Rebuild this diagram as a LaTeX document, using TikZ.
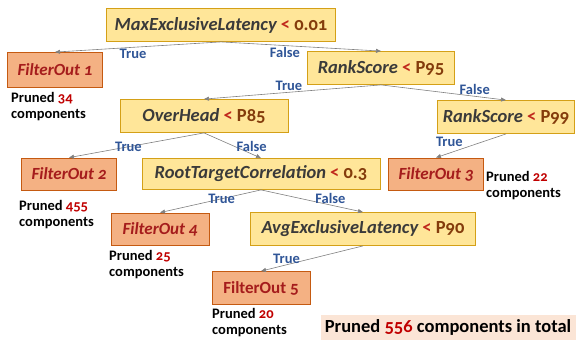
\documentclass[tikz,border=0pt]{standalone}
\usepackage{fontspec}
\setmainfont{Carlito}[Numbers=OldStyle]
\usetikzlibrary{arrows.meta}

\definecolor{condfill}{HTML}{FFE699}
\definecolor{conddraw}{HTML}{D4A017}
\definecolor{filtfill}{HTML}{F4B183}
\definecolor{filtdraw}{HTML}{C55A11}
\definecolor{filttext}{HTML}{A51C1C}
\definecolor{vartext}{HTML}{3A3A3A}
\definecolor{valtext}{HTML}{843C0C}
\definecolor{optext}{HTML}{C0281C}
\definecolor{lbltext}{HTML}{2F5597}
\definecolor{numtext}{HTML}{C00000}
\definecolor{totalfill}{HTML}{FBE5D6}

\newcommand{\cnd}[2]{\textit{\color{vartext}#1} {\color{optext}<} {\color{valtext}#2}}
\newcommand{\pruned}[1]{Pruned {\color{numtext}#1}\\components}

\begin{document}
\begin{tikzpicture}[x=1pt,y=-1pt,
		cond/.style={draw=conddraw,fill=condfill,line width=0.8pt,minimum height=33pt,
			font=\fontsize{18.5}{20}\selectfont\bfseries,inner sep=1pt},
		filt/.style={draw=filtdraw,fill=filtfill,line width=0.8pt,minimum width=95pt,minimum height=32pt,
			font=\fontsize{17}{19}\selectfont\bfseries,text=filttext,inner sep=1pt},
		note/.style={anchor=north west,align=left,font=\fontsize{14.5}{16}\selectfont\bfseries,inner sep=0pt},
		edge/.style={draw=gray,line width=0.6pt,-{Triangle[length=5pt,width=4pt]}},
		lbl/.style={font=\fontsize{14.5}{16}\selectfont\bfseries,text=lbltext,inner sep=1pt}]
	\useasboundingbox (0,0) rectangle (579,343);

	% condition nodes
	\node[cond,minimum width=229pt] (maxex) at (221,25) {\cnd{MaxExclusiveLatency}{0.01}};
	\node[cond,minimum width=147pt] (rank95) at (381,68) {\cnd{RankScore}{P95}};
	\node[cond,minimum width=168pt] (overhead) at (204,116) {\cnd{OverHead}{P85}};
	\node[cond,minimum width=137pt] (rank99) at (506,117) {\cnd{RankScore}{P99}};
	\node[cond,minimum width=238pt,minimum height=31pt] (rootcorr) at (261,174) {\cnd{RootTargetCorrelation}{0.3}};
	\node[cond,minimum width=225pt] (avgex) at (363,229) {\cnd{AvgExclusiveLatency}{P90}};

	% filter nodes
	\node[filt,minimum height=35pt] (filt1) at (55,70) {\textit{FilterOut 1}};
	\node[filt] (filt2) at (69,174) {\textit{FilterOut 2}};
	\node[filt] (filt3) at (436,174) {\textit{FilterOut 3}};
	\node[filt,minimum width=98pt] (filt4) at (160,229) {\textit{FilterOut 4}};
	\node[filt,minimum width=98pt,minimum height=33pt] (filt5) at (261,288) {FilterOut 5};

	% pruned counts
	\node[note] (note1) at (11,92) {\pruned{34}};
	\node[note] (note2) at (19,200) {\pruned{455}};
	\node[note] (note3) at (486,171) {\pruned{22}};
	\node[note] (note4) at (109,250) {\pruned{25}};
	\node[note] (note5) at (212,308) {\pruned{20}};
	\node[fill=totalfill,minimum width=255pt,minimum height=25pt,inner sep=1pt,
		font=\fontsize{18.5}{20}\selectfont\bfseries] (total) at (448,327)
		{Pruned {\color{numtext}556} components in total};

	% edges
	\draw[edge] (maxex.south) -- node[lbl,below,pos=0.53] {True} (filt1.north);
	\draw[edge] (maxex.south) -- node[lbl,below,pos=0.4] {False} (rank95.north);
	\draw[edge] (rank95.south) -- node[lbl,above,pos=0.52] {True} (overhead.north);
	\draw[edge] (rank95.south) -- node[lbl,above,pos=0.75] {False} (rank99.north);
	\draw[edge] (overhead.south) -- node[lbl,pos=0.56] {True} (filt2.north);
	\draw[edge] (overhead.south) -- node[lbl,right,pos=0.55] {False} (rootcorr.north);
	\draw[edge] (rank99.south) -- node[lbl,above left,pos=0.6] {True} (filt3.north);
	\draw[edge] (rootcorr.south) -- node[lbl,pos=0.39] {True} (filt4.north);
	\draw[edge] (rootcorr.south) -- node[lbl,above,pos=0.68] {False} (avgex.north);
	\draw[edge] (avgex.south) -- node[lbl,above,pos=0.75] {True} (filt5.north);
\end{tikzpicture}
\end{document}
